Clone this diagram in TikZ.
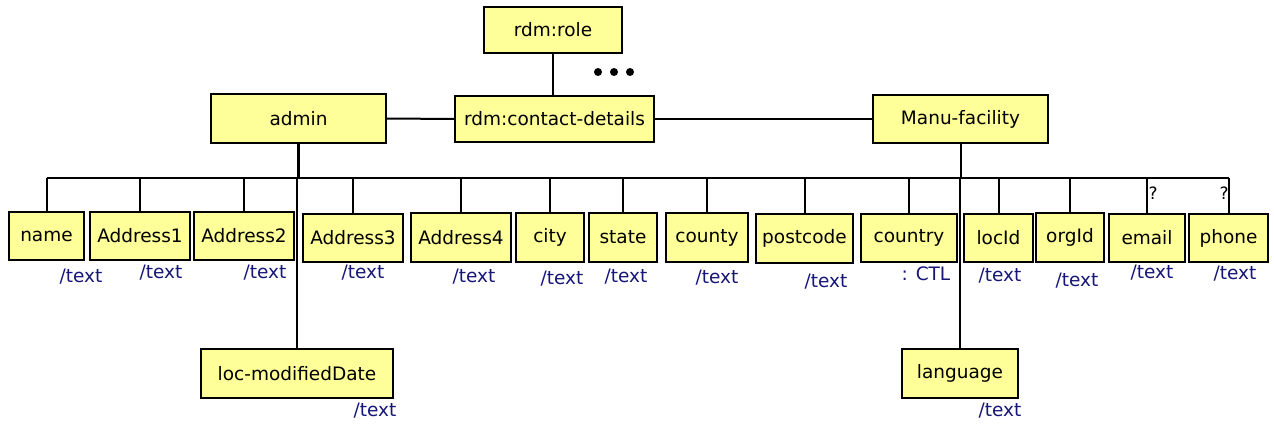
\documentclass[tikz,border=0pt]{standalone}
\usepackage{fontspec}
\setmainfont{DejaVu Sans}
\definecolor{boxfill}{HTML}{FFFF99}
\definecolor{navy}{RGB}{22,22,120}
\begin{document}
\begin{tikzpicture}[x=1pt,y=-1pt,
  box/.style={draw=black,line width=1.5pt,fill=boxfill,inner sep=0pt,font=\fontsize{18.5}{21}\selectfont},
  lbl/.style={text=navy,inner sep=0pt,font=\fontsize{18.5}{21}\selectfont},
  qm/.style={inner sep=0pt,font=\fontsize{17}{19}\selectfont},
  conn/.style={line width=2pt},
  thick conn/.style={line width=2.8pt}]
\useasboundingbox (0,0) rectangle (1274,425);
% top
\node[box,minimum width=138pt,minimum height=46pt] (role) at (553,30) {rdm:role};
\node[box,minimum width=199pt,minimum height=46pt] (cd) at (554.5,119) {rdm:contact-details};
\node[box,minimum width=175pt,minimum height=49pt] (admin) at (298.5,118.5) {admin};
\node[box,minimum width=175pt,minimum height=48pt] (manu) at (960.5,119) {Manu-facility};
% children
\node[box,minimum width=75pt,minimum height=48pt] (name) at (46.5,236) {name};
\node[box,minimum width=100pt,minimum height=48pt] (a1) at (140,236) {Address1};
\node[box,minimum width=100pt,minimum height=48pt] (a2) at (244,236) {Address2};
\node[box,minimum width=100pt,minimum height=48pt] (a3) at (353,238) {Address3};
\node[box,minimum width=100pt,minimum height=49pt] (a4) at (461,237.5) {Address4};
\node[box,minimum width=68pt,minimum height=49pt] (city) at (550,237.5) {city};
\node[box,minimum width=68pt,minimum height=49pt] (state) at (623,237.5) {state};
\node[box,minimum width=82pt,minimum height=49pt] (county) at (707,237.5) {county};
\node[box,minimum width=97pt,minimum height=49pt] (postcode) at (804.5,238.5) {postcode};
\node[box,minimum width=96pt,minimum height=48pt] (country) at (909,238) {country};
\node[box,minimum width=69pt,minimum height=48pt] (locid) at (998.5,238) {locId};
\node[box,minimum width=68pt,minimum height=49pt] (orgid) at (1070,237.5) {orgId};
\node[box,minimum width=76pt,minimum height=48pt] (email) at (1147,238) {email};
\node[box,minimum width=79pt,minimum height=48pt] (phone) at (1228.5,238) {phone};
\node[box,minimum width=192pt,minimum height=49pt] (locmod) at (297,373.5) {loc-modifiedDate};
\node[box,minimum width=116pt,minimum height=49pt] (lang) at (960,373.5) {language};
% labels
\node[lbl] (tname) at (81,277) {/text};
\node[lbl] (ta1) at (161,273) {/text};
\node[lbl] (ta2) at (265,273) {/text};
\node[lbl] (ta3) at (363,273) {/text};
\node[lbl] (ta4) at (474,277) {/text};
\node[lbl] (tcity) at (562,279) {/text};
\node[lbl] (tstate) at (626,277) {/text};
\node[lbl] (tcounty) at (717,278) {/text};
\node[lbl] (tpost) at (826,282) {/text};
\node[lbl] (tcountry) at (926,274) {: CTL};
\node[lbl] (tlocid) at (1000,276) {/text};
\node[lbl] (torgid) at (1077,281) {/text};
\node[lbl] (temail) at (1152,273) {/text};
\node[lbl] (tphone) at (1235,274) {/text};
\node[lbl] (tlocmod) at (375,411) {/text};
\node[lbl] (tlang) at (1000,411) {/text};
\node[qm] (q1) at (1153,193) {?};
\node[qm] (q2) at (1224,193) {?};
% dots
\fill (598,72) circle (4pt) (614,72) circle (4pt) (630,72) circle (4pt);
% connectors
\coordinate (busL) at (47,178);
\draw[conn] (role.south) -- (role.south |- cd.north);
\draw[conn] (admin.east) -- (cd.west);
\draw[conn] (cd.east) -- (manu.west);
\draw[conn] (name.north |- busL) -- (admin.south |- busL);
\draw[thick conn] (admin.south |- busL) -- (orgid.north |- busL);
\draw[conn] (orgid.north |- busL) -- (phone.north |- busL);
\draw[thick conn] (admin.south) -- (admin.south |- busL);
\draw[conn] (manu.south) -- (manu.south |- busL);
\foreach \c in {name,a1,a2,a3,a4,city,state,county,postcode,country,locid,orgid,email,phone}
  \draw[conn] (\c.north) -- (\c.north |- busL);
\draw[conn] (locmod.north) -- (locmod.north |- busL);
\draw[conn] (lang.north) -- (lang.north |- busL);
\end{tikzpicture}
\end{document}
